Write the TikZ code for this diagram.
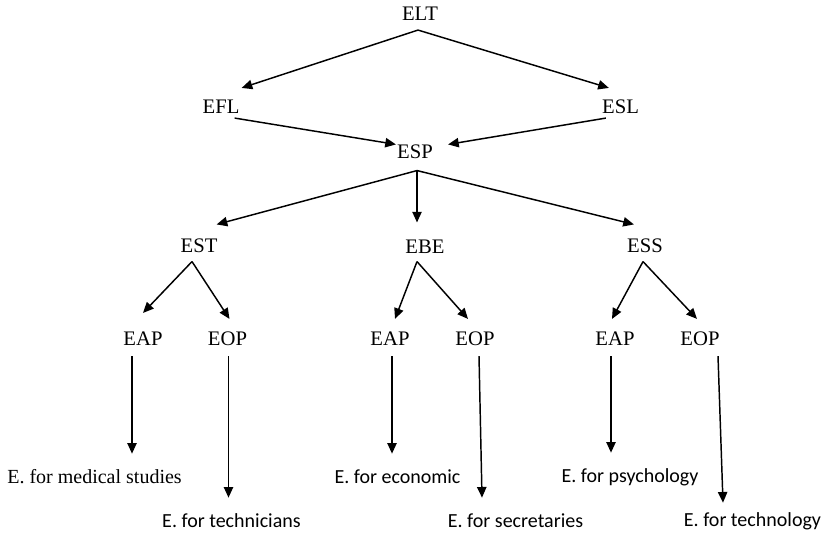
\documentclass[tikz,border=0pt]{standalone}
\usepackage{fontspec}
\setmainfont{Liberation Serif}
\newfontfamily\leaffont{Carlito}
\usetikzlibrary{arrows.meta,calc}
\tikzset{
  term/.style={font=\fontsize{15.5}{18}\selectfont,inner sep=0pt,text height=10.2pt,text depth=0pt},
  leaf/.style={anchor=base,inner sep=0pt,text height=11pt,text depth=3pt,outer ysep=11pt,font=\leaffont\fontsize{15}{18}\selectfont},
  leafserif/.style={leaf,font=\fontsize{15}{18}\selectfont},
  link/.style={-{Triangle[length=8pt,width=7pt]},line width=1.1pt}
}
\begin{document}
\begin{tikzpicture}[x=.75pt,y=-.75pt]
  \useasboundingbox (0,0) rectangle (823,532);
  % top of the tree
  \node[term] (ELT) at (420,14) {ELT};
  \node[term] (EFL) at (221,107) {EFL};
  \node[term] (ESL) at (620.5,107) {ESL};
  \node[term] (ESP) at (415,151.5) {ESP};
  % branches
  \node[term] (EST) at (199,245.5) {EST};
  \node[term] (EBE) at (425,246.5) {EBE};
  \node[term] (ESS) at (645,245.5) {ESS};
  \node[term] (EAP1) at (143,339) {EAP};
  \node[term] (EOP1) at (227.5,339) {EOP};
  \node[term] (EAP2) at (390,339) {EAP};
  \node[term] (EOP2) at (475,339) {EOP};
  \node[term] (EAP3) at (615,339) {EAP};
  \node[term] (EOP3) at (700,339) {EOP};
  % leaves
  \node[leafserif] (med) at (94.5,483) {E. for medical studies};
  \node[leaf] (tecn) at (231.5,527) {E. for technicians};
  \node[leaf] (econ) at (397.5,483) {E. for economic};
  \node[leaf] (secr) at (515.5,527) {E. for secretaries};
  \node[leaf] (psyc) at (630,482) {E. for psychology};
  \node[leaf] (tchn) at (752.5,526) {E. for technology};

  \coordinate (eltfoot) at ($(ELT.south)+(-2,9)$);
  \coordinate (espfoot) at ($(ESP.south)+(2,12)$);
  \coordinate (estfoot) at ($(EST.south)+(-7,9)$);
  \coordinate (ebefoot) at ($(EBE.south)+(-8,8)$);
  \coordinate (essfoot) at ($(ESS.south)+(-2,9)$);
  \coordinate (d1) at ($(EAP1.south)+(-11,10)$);
  \coordinate (d2) at ($(EOP1.south)+(1,10)$);
  \coordinate (d3) at ($(EAP2.south)+(2,10)$);
  \coordinate (d4) at ($(EOP2.south)+(4,10)$);
  \coordinate (d5) at ($(EAP3.south)+(-4,10)$);
  \coordinate (d6) at ($(EOP3.south)+(18,10)$);

  \draw[link] (eltfoot) -- ($(EFL.north east)+(2,-12)$);
  \draw[link] (eltfoot) -- ($(ESL.north west)+(7,-12)$);
  \draw[link] ($(EFL.south east)+(-5,4)$) -- ($(ESP.north west)+(-1,0)$);
  \draw[link] ($(ESL.south west)+(4,4)$) -- ($(ESP.north east)+(15,0)$);
  \draw[link] (espfoot) -- ($(EST.north east)+(-1,-14)$);
  \draw[link] (espfoot) -- ($(espfoot |- EBE.north)+(0,-17)$);
  \draw[link] (espfoot) -- ($(ESS.north west)+(7,-14)$);
  \draw[link] (estfoot) -- ($(EAP1.north)+(0,-19)$);
  \draw[link] (estfoot) -- ($(EOP1.north)+(2,-13)$);
  \draw[link] (ebefoot) -- ($(EAP2.north)+(5,-13)$);
  \draw[link] (ebefoot) -- ($(EOP2.north)+(-7,-13)$);
  \draw[link] (essfoot) -- ($(EAP3.north)+(-3,-13)$);
  \draw[link] (essfoot) -- ($(EOP3.north)+(-3,-13)$);
  % down to the leaves
  \draw[link] (d1) -- (d1 |- med.north);
  \draw[link] (d2) -- (d2 |- tecn.north);
  \draw[link] (d3) -- (d3 |- econ.north);
  \draw[link] (d4) -- ($(d4 |- secr.north)+(3,0)$);
  \draw[link] (d5) -- (d5 |- psyc.north);
  \draw[link] (d6) -- ($(d6 |- tchn.north)+(5,6)$);
\end{tikzpicture}
\end{document}
